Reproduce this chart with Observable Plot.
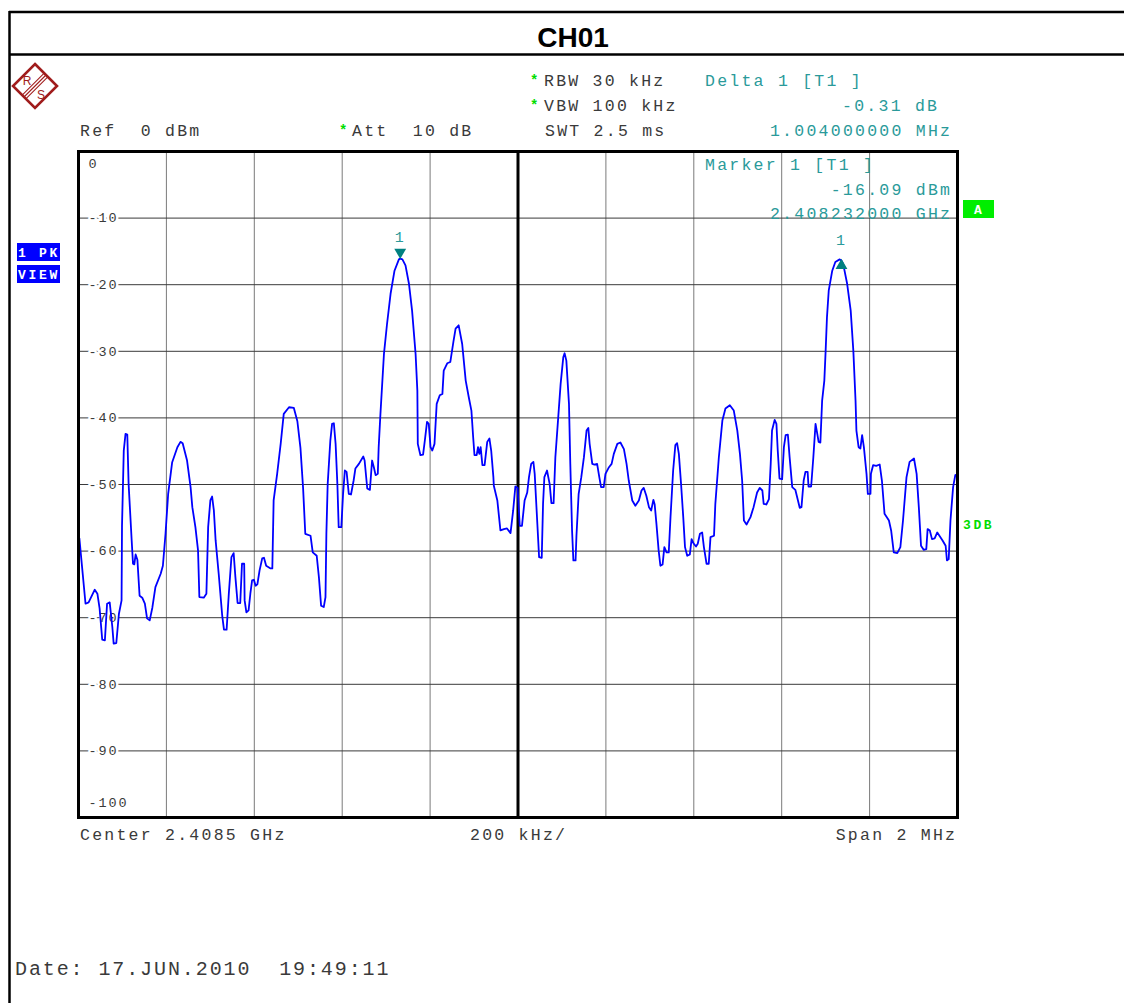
<!DOCTYPE html>
<html><head><meta charset="utf-8">
<script src="https://cdn.jsdelivr.net/npm/d3@7"></script>
<script src="https://cdn.jsdelivr.net/npm/@observablehq/plot@0.6"></script>
<style>
html,body{margin:0;padding:0;background:#fff;}
#wrap{position:relative;width:1124px;height:1003px;overflow:hidden;background:#fff;}
#wrap svg{position:absolute;left:0;top:0;}
#plotsvg text{letter-spacing:1.9px;}
</style></head><body><div id="wrap"></div>
<script>
// ---------- data ----------
const startMHz = 2407.5;           // Center 2.4085 GHz, Span 2 MHz
const offsetKHz = [
  2,16,23,37,43,48,54,60,65,71,
  77,80,86,92,98,99,103,107,111,114,
  121,124,127,130,134,139,145,151,156,162,
  168,175,187,192,198,204,213,225,232,237,
  247,255,259,266,272,275,285,291,295,300,
  304,308,312,319,327,331,337,342,348,353,
  357,362,368,371,372,377,378,382,387,391,
  395,399,403,407,412,418,422,427,437,441,
  444,452,460,467,479,490,498,505,511,516,
  528,533,542,547,552,558,562,564,567,573,
  577,581,585,589,592,598,602,606,610,615,
  620,626,630,638,648,651,657,663,668,672,
  676,681,683,687,695,702,710,719,729,732,
  737,744,752,759,767,771,772,778,784,788,
  793,797,801,805,810,815,822,828,831,839,
  846,853,858,865,873,881,888,894,898,901,
  906,909,912,915,919,924,930,935,939,944,
  945,953,960,968,975,983,989,994,999,1004,
  1009,1015,1021,1025,1030,1035,1038,1044,1048,1054,
  1057,1060,1066,1072,1076,1081,1085,1091,1097,1103,
  1106,1110,1116,1119,1123,1126,1131,1133,1138,1144,
  1150,1156,1160,1163,1169,1174,1180,1185,1189,1195,
  1199,1207,1213,1218,1226,1233,1241,1247,1252,1260,
  1267,1275,1281,1286,1292,1298,1303,1308,1311,1315,
  1320,1324,1329,1333,1338,1343,1347,1353,1358,1362,
  1366,1371,1376,1380,1385,1391,1395,1400,1405,1409,
  1414,1419,1423,1429,1434,1438,1446,1449,1457,1465,
  1472,1482,1491,1499,1505,1510,1514,1520,1529,1536,
  1544,1550,1556,1559,1565,1571,1575,1578,1584,1588,
  1591,1595,1601,1605,1609,1614,1618,1624,1631,1637,
  1641,1645,1650,1654,1659,1661,1667,1672,1677,1681,
  1684,1688,1692,1697,1700,1703,1707,1715,1722,1732,
  1736,1740,1749,1757,1763,1768,1770,1775,1779,1783,
  1787,1793,1796,1802,1803,1808,1815,1823,1828,1834,
  1844,1849,1855,1863,1870,1876,1884,1891,1901,1907,
  1912,1917,1923,1929,1932,1937,1942,1948,1954,1960,
  1966,1973,1976,1980,1984,1990,1995,1999
];
const levelDb = [
  -58.1,-67.9,-67.7,-65.8,-66.4,-68.6,-73.3,-73.4,-67.9,-67.7,
  -71.4,-73.9,-73.8,-69.4,-67.4,-56.2,-44.9,-42.4,-42.5,-49.9,
  -58.4,-61.9,-62.0,-60.5,-61.3,-66.7,-67.0,-67.9,-70.1,-70.4,
  -68.5,-65.4,-63.4,-62.2,-57.4,-51.4,-46.7,-44.4,-43.6,-43.8,
  -46.4,-50.4,-53.4,-56.4,-59.9,-66.9,-67.0,-66.4,-56.4,-52.4,
  -51.8,-53.9,-58.4,-63.4,-69.7,-71.8,-71.8,-66.4,-60.9,-60.3,
  -63.9,-67.8,-67.8,-63.4,-61.9,-61.9,-67.4,-69.2,-68.9,-66.4,
  -64.4,-64.3,-65.2,-65.0,-62.9,-61.1,-61.0,-62.2,-62.6,-62.6,
  -52.4,-48.4,-43.9,-39.4,-38.4,-38.5,-40.5,-44.5,-50.5,-57.4,
  -57.7,-60.2,-60.7,-63.9,-68.2,-68.4,-66.9,-57.4,-49.9,-43.4,
  -40.9,-40.8,-43.9,-49.9,-56.4,-56.4,-51.4,-47.9,-48.1,-51.4,
  -51.5,-49.4,-47.6,-46.9,-45.8,-46.4,-50.6,-50.8,-46.4,-47.4,
  -48.6,-48.4,-44.4,-39.4,-30.4,-25.9,-21.4,-17.9,-16.2,-16.09,
  -16.2,-17.1,-19.9,-23.9,-30.4,-35.9,-43.9,-45.6,-45.5,-43.4,
  -40.6,-40.9,-44.4,-44.9,-43.9,-37.9,-36.6,-36.4,-32.9,-31.8,
  -31.6,-28.6,-26.6,-26.1,-28.9,-34.4,-36.9,-38.9,-42.9,-45.6,
  -45.6,-44.4,-45.4,-44.4,-47.1,-47.1,-43.6,-43.1,-44.9,-48.9,
  -50.2,-52.4,-56.9,-56.7,-56.6,-57.3,-53.9,-50.3,-50.5,-56.2,
  -56.2,-52.4,-51.2,-48.9,-46.9,-46.6,-48.4,-55.9,-60.9,-61.0,
  -52.9,-48.9,-47.9,-49.9,-52.8,-52.8,-45.9,-40.4,-34.9,-30.9,
  -30.3,-31.4,-37.9,-46.9,-56.9,-61.4,-61.4,-57.7,-51.4,-48.9,
  -45.9,-41.9,-41.5,-43.9,-46.9,-47.0,-46.9,-48.9,-50.4,-50.4,
  -48.4,-47.4,-46.9,-45.4,-43.9,-43.7,-44.7,-46.9,-49.4,-52.4,
  -53.2,-52.4,-50.9,-50.5,-51.7,-53.4,-53.9,-52.3,-53.0,-55.9,
  -59.9,-62.2,-62.0,-59.4,-60.2,-60.2,-54.9,-47.9,-44.1,-43.8,
  -45.4,-49.9,-54.9,-59.4,-60.7,-60.5,-58.2,-58.9,-59.3,-58.9,
  -57.4,-57.2,-59.4,-61.9,-61.9,-57.9,-57.7,-52.9,-45.9,-40.4,
  -38.6,-38.1,-38.9,-41.9,-45.4,-49.4,-55.4,-56.0,-54.9,-53.4,
  -51.2,-50.5,-50.9,-52.9,-53.0,-52.2,-46.9,-41.9,-40.3,-40.9,
  -44.9,-49.1,-49.2,-44.4,-42.6,-42.5,-45.9,-50.4,-50.8,-52.4,
  -53.5,-53.4,-49.4,-48.1,-48.1,-50.3,-50.3,-45.9,-40.9,-42.4,
  -43.6,-43.7,-37.4,-34.4,-29.9,-24.9,-20.9,-17.9,-16.6,-16.2,
  -16.4,-16.9,-19.9,-23.9,-29.9,-37.4,-41.9,-44.4,-44.6,-42.6,
  -44.4,-48.4,-51.4,-51.4,-48.4,-47.1,-47.2,-47.0,-49.4,-54.4,
  -55.4,-56.9,-60.2,-60.3,-59.4,-55.4,-48.9,-46.6,-46.1,-48.4,
  -53.4,-59.2,-59.8,-59.7,-56.7,-56.9,-58.2,-58.1,-57.2,-57.8,
  -58.4,-59.2,-61.4,-61.2,-55.4,-50.4,-48.6,-48.5
];
const xGridMHz = [2407.7, 2407.9, 2408.1, 2408.3, 2408.7, 2408.9, 2409.1, 2409.3];
const centerMHz = [2408.5];
const yGridDb = [-10, -20, -30, -40, -50, -60, -70, -80, -90];
const yTopLabel = [0];
const yBottomLabel = [-100];
const markerFreqMHz = [2408.232, 2409.236];   // marker 1, delta 1 (+1.004 MHz)
const markerLevelDb = [-16.09, -16.40];       // delta 1 = -0.31 dB
const markerName = ["1", "1"];

// ---------- build ----------
const n = Math.min(offsetKHz.length, levelDb.length);
const trace = d3.range(n).map(i => ({f: startMHz + offsetKHz[i] / 1000, db: levelDb[i]}));
const markers = markerFreqMHz.map((f, i) => ({f, db: markerLevelDb[i], name: markerName[i]}));
const mono = "'Liberation Mono', 'DejaVu Sans Mono', monospace";
const teal = "#2a9a9a";

const chart = Plot.plot({
  width: 1124, height: 1003,
  marginLeft: 78, marginRight: 167, marginTop: 151, marginBottom: 186,
  x: {domain: [2407.5, 2409.5], axis: null},
  y: {domain: [-100, 0], axis: null},
  style: {background: "transparent", overflow: "visible"},
  marks: [
    Plot.gridX(xGridMHz, {stroke: "#7a7a7a", strokeOpacity: 1, strokeWidth: 1}),
    Plot.gridY(yGridDb, {stroke: "#3a3a3a", strokeOpacity: 1, strokeWidth: 1}),
    Plot.ruleX(centerMHz, {stroke: "#000", strokeWidth: 3}),
    Plot.text(yGridDb, {y: d => d, text: d => String(d), frameAnchor: "left", dx: 10, textAnchor: "start",
      fill: "#3a3a3a", stroke: "white", strokeWidth: 5, paintOrder: "stroke", fontFamily: mono, fontSize: 13.5}),
    Plot.text(yTopLabel, {y: d => d, text: d => String(d), frameAnchor: "left", dx: 10, dy: 12, textAnchor: "start",
      fill: "#3a3a3a", fontFamily: mono, fontSize: 13.5}),
    Plot.text(yBottomLabel, {y: d => d, text: d => String(d), frameAnchor: "left", dx: 10, dy: -15, textAnchor: "start",
      fill: "#3a3a3a", fontFamily: mono, fontSize: 13.5}),
    Plot.line(trace, {x: "f", y: "db", stroke: "#0000ff", strokeWidth: 1.8, strokeLinejoin: "round"}),
    Plot.frame({stroke: "#000", strokeWidth: 3}),
    // marker 1: downward triangle sitting on the peak
    Plot.dot(markers.slice(0, 1), {x: "f", y: "db", symbol: "triangle", r: 4.4, rotate: 180, dy: -6.5, fill: "#008080", stroke: "none"}),
    // delta 1: upward triangle below its point
    Plot.dot(markers.slice(1), {x: "f", y: "db", symbol: "triangle", r: 4.4, dy: 4.8, fill: "#008080", stroke: "none"}),
    Plot.text(markers.slice(0, 1), {x: "f", y: "db", text: "name", dy: -21, fill: teal, fontFamily: mono, fontSize: 15}),
    Plot.text(markers.slice(1), {x: "f", y: "db", text: "name", dy: -21, fill: teal, fontFamily: mono, fontSize: 15})
  ]
});
chart.setAttribute("id", "plotsvg");
document.getElementById("wrap").appendChild(chart);

// ---------- overlay (frame, logo, annotations) ----------
const ov = d3.select("#wrap").append("svg").attr("width", 1124).attr("height", 1003)
  .style("pointer-events", "none");

// outer page frame
ov.append("line").attr("x1", 9).attr("y1", 12).attr("x2", 1124).attr("y2", 12).attr("stroke", "#000").attr("stroke-width", 2.5);
ov.append("line").attr("x1", 9).attr("y1", 54.5).attr("x2", 1124).attr("y2", 54.5).attr("stroke", "#000").attr("stroke-width", 2.5);
ov.append("line").attr("x1", 9.5).attr("y1", 11).attr("x2", 9.5).attr("y2", 1003).attr("stroke", "#000").attr("stroke-width", 2.5);

// title
ov.append("text").attr("x", 573).attr("y", 47).attr("text-anchor", "middle")
  .attr("font-family", "'Liberation Sans', Arial, sans-serif").attr("font-weight", "bold").attr("font-size", 28)
  .attr("fill", "#000").text("CH01");

// R&S logo
const lg = ov.append("g").attr("transform", "translate(35,86)");
const red = "#a01c1c";
lg.append("path").attr("d", "M0,-22 L22,0 L0,22 L-22,0 Z").attr("fill", "none").attr("stroke", red).attr("stroke-width", 2.6);
[-2.6, 0, 2.6].forEach(o => {
  lg.append("line").attr("x1", -11 + o * 0.7).attr("y1", 11 + o * 0.7).attr("x2", 11 + o * 0.7).attr("y2", -11 + o * 0.7)
    .attr("stroke", red).attr("stroke-width", 1.1);
});
lg.append("text").attr("x", -8).attr("y", -1).attr("text-anchor", "middle").attr("font-family", "'Liberation Sans', Arial, sans-serif")
  .attr("font-size", 12).attr("fill", red).text("R");
lg.append("text").attr("x", 6).attr("y", 13).attr("text-anchor", "middle").attr("font-family", "'Liberation Sans', Arial, sans-serif")
  .attr("font-size", 12).attr("fill", red).text("S");

function t(x, y, s, o = {}) {
  const size = o.size || 16.5, ls = o.ls != null ? o.ls : 2.25;
  return ov.append("text")
    .attr("x", o.anchor === "end" ? x + ls : x).attr("y", y)
    .attr("text-anchor", o.anchor || "start")
    .attr("font-family", o.family || mono)
    .attr("font-size", size)
    .attr("font-weight", o.weight || "normal")
    .attr("fill", o.fill || "#3a3a3a")
    .style("letter-spacing", ls + "px")
    .style("white-space", "pre")
    .attr("xml:space", "preserve")
    .text(s);
}
const green = "#00dd00";
// header
t(80, 136, "Ref  0 dBm");
t(339, 135, "*", {fill: green, size: 14, weight: "bold", ls: 0});
t(352, 136, "Att  10 dB");
t(530, 85, "*", {fill: green, size: 14, weight: "bold", ls: 0});
t(544, 86, "RBW 30 kHz");
t(530, 110, "*", {fill: green, size: 14, weight: "bold", ls: 0});
t(544, 111, "VBW 100 kHz");
t(545, 136, "SWT 2.5 ms");
t(705, 86, "Delta 1 [T1 ]", {fill: teal});
t(937, 111, "-0.31 dB", {fill: teal, anchor: "end"});
t(950, 136, "1.004000000 MHz", {fill: teal, anchor: "end"});
// marker readout inside the grid
t(705, 170, "Marker 1 [T1 ]", {fill: teal});
t(950, 195, "-16.09 dBm", {fill: teal, anchor: "end"});
t(950, 219, "2.408232000 GHz", {fill: teal, anchor: "end"});
// bottom
t(80, 840, "Center 2.4085 GHz");
t(470, 840, "200 kHz/");
t(955, 840, "Span 2 MHz", {anchor: "end"});
t(15, 975, "Date: 17.JUN.2010  19:49:11", {size: 20, ls: 1.9});

// left blue trace boxes
ov.append("rect").attr("x", 17).attr("y", 243).attr("width", 43).attr("height", 18).attr("fill", "#0000ff");
ov.append("rect").attr("x", 17).attr("y", 265).attr("width", 43).attr("height", 18).attr("fill", "#0000ff");
t(18, 257, "1 PK", {fill: "#fff", size: 13, weight: "bold", ls: 2.7});
t(18, 279, "VIEW", {fill: "#fff", size: 13, weight: "bold", ls: 2.7});
// right green boxes
ov.append("rect").attr("x", 963).attr("y", 200).attr("width", 31).attr("height", 18).attr("fill", "#00ee00");
t(978, 214, "A", {fill: "#fff", size: 13, weight: "bold", ls: 0, anchor: "middle"});
t(963, 529, "3DB", {fill: green, size: 13, weight: "bold", ls: 2.6});
</script></body></html>
